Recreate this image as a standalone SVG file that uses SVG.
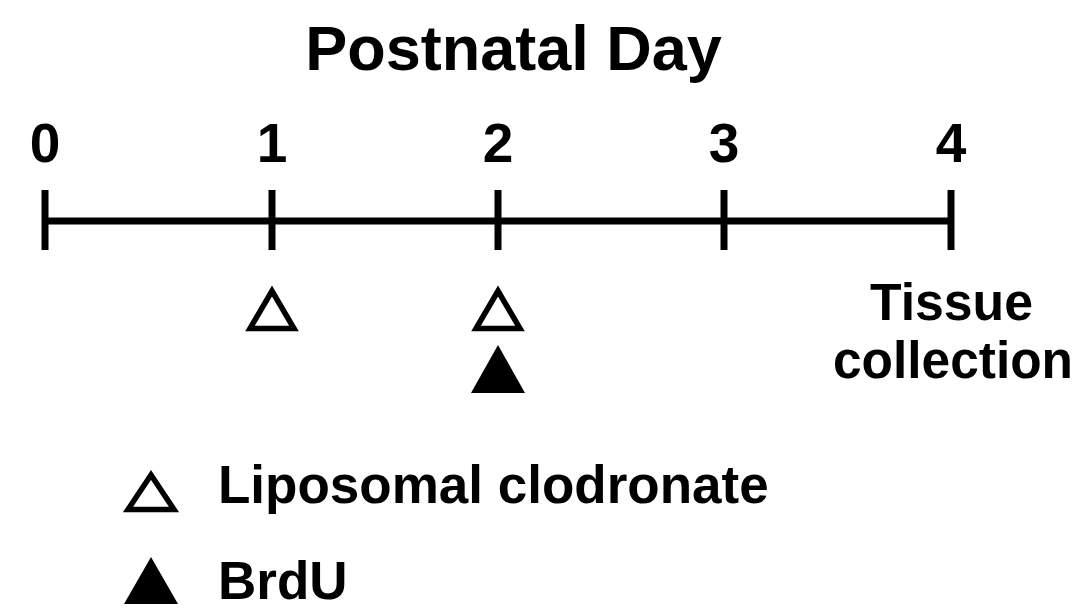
<svg xmlns="http://www.w3.org/2000/svg" width="1084" height="611" viewBox="0 0 1084 611">
<style>
text{font-family:"Liberation Sans",Arial,sans-serif;font-weight:bold;fill:#000}
.num{font-size:55px;text-anchor:middle}
.ax{stroke:#000;stroke-width:7;fill:none}
.open{fill:#fff;stroke:#000;stroke-width:5.5;stroke-linejoin:miter}
.fill{fill:#000;stroke:none}
</style>
<rect width="1084" height="611" fill="#fff"/>
<g id="title"><text x="513.5" y="70" font-size="63" text-anchor="middle">Postnatal Day</text></g>
<g id="connectors">
<line class="ax" x1="45" y1="221" x2="951" y2="221"/>
</g>
<g id="day0"><line class="ax" x1="45" y1="190" x2="45" y2="250"/><text class="num" x="45" y="162">0</text></g>
<g id="day1"><line class="ax" x1="272" y1="190" x2="272" y2="250"/><text class="num" x="272" y="162">1</text></g>
<g id="day2"><line class="ax" x1="498" y1="190" x2="498" y2="250"/><text class="num" x="498" y="162">2</text></g>
<g id="day3"><line class="ax" x1="724" y1="190" x2="724" y2="250"/><text class="num" x="724" y="162">3</text></g>
<g id="day4"><line class="ax" x1="951" y1="190" x2="951" y2="250"/><text class="num" x="951" y="162">4</text></g>
<g id="clodronate-day1"><polygon class="open" points="272,291 250,328.5 294,328.5"/></g>
<g id="clodronate-day2"><polygon class="open" points="498,291 476,328.5 520,328.5"/></g>
<g id="brdu-day2"><polygon class="fill" points="498,345 471,393 525,393"/></g>
<g id="tissue-collection"><text x="951.5" y="320" font-size="51" text-anchor="middle" textLength="163" lengthAdjust="spacingAndGlyphs">Tissue</text><text x="953" y="378" font-size="51" text-anchor="middle" textLength="240" lengthAdjust="spacingAndGlyphs">collection</text></g>
<g id="legend-clodronate"><polygon class="open" points="151,475 128,509.5 174,509.5"/><text x="218" y="503" font-size="53">Liposomal clodronate</text></g>
<g id="legend-brdu"><polygon class="fill" points="151,557 124,604 178,604"/><text x="218" y="599" font-size="53">BrdU</text></g>
</svg>
